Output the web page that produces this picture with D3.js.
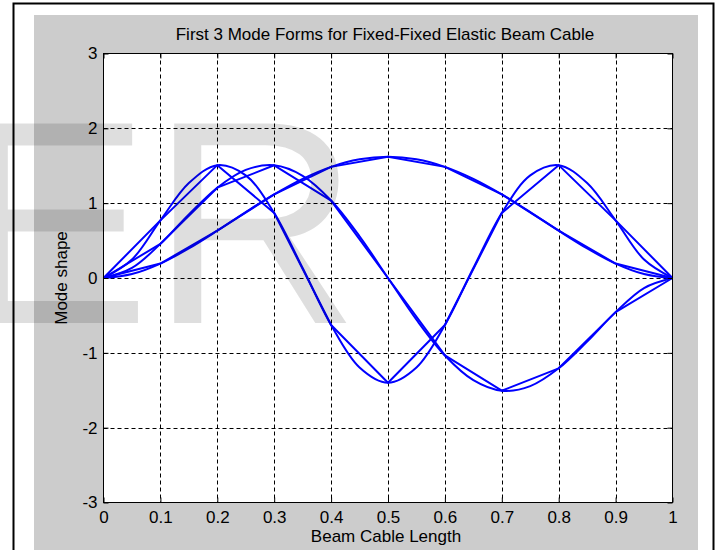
<!DOCTYPE html>
<html>
<head>
<meta charset="utf-8">
<script src="https://cdn.jsdelivr.net/npm/d3@7"></script>
<style>
  html, body { margin: 0; padding: 0; background: #fff; }
  svg { display: block; font-family: "Liberation Sans", Arial, sans-serif; }
</style>
</head>
<body>
<div id="chart"></div>
<script>
// ---- data ----
const xTicks = [0, 0.1, 0.2, 0.3, 0.4, 0.5, 0.6, 0.7, 0.8, 0.9, 1];
const yTicks = [-3, -2, -1, 0, 1, 2, 3];

// coarse solution: nodes every 0.1
const xCoarse = [0, 0.1, 0.2, 0.3, 0.4, 0.5, 0.6, 0.7, 0.8, 0.9, 1];
const mode1Coarse = [0, 0.193, 0.632, 1.118, 1.485, 1.62, 1.485, 1.118, 0.632, 0.193, 0];
const mode2Coarse = [0, 0.456, 1.207, 1.506, 1.035, 0, -1.035, -1.506, -1.207, -0.456, 0];
const mode3Coarse = [0, 0.770, 1.508, 0.869, -0.628, -1.40, -0.628, 0.869, 1.508, 0.770, 0];

// fine solution: nodes every 0.05
const xFine = [0, 0.05, 0.1, 0.15, 0.2, 0.25, 0.3, 0.35, 0.4, 0.45, 0.5,
               0.55, 0.6, 0.65, 0.7, 0.75, 0.8, 0.85, 0.9, 0.95, 1];
const mode1Fine = [0, 0.053, 0.193, 0.395, 0.632, 0.881, 1.118, 1.325, 1.485, 1.586, 1.62,
                   1.586, 1.485, 1.325, 1.118, 0.881, 0.632, 0.395, 0.193, 0.053, 0];
const mode2Fine = [0, 0.134, 0.456, 0.849, 1.207, 1.445, 1.506, 1.365, 1.035, 0.557, 0,
                   -0.557, -1.035, -1.365, -1.506, -1.445, -1.207, -0.849, -0.456, -0.134, 0];
const mode3Fine = [0, 0.247, 0.770, 1.268, 1.508, 1.371, 0.869, 0.133, -0.628, -1.196, -1.40,
                   -1.196, -0.628, 0.133, 0.869, 1.371, 1.508, 1.268, 0.770, 0.247, 0];

const width = 719, height = 550;
const plot = { left: 103.5, right: 672.5, top: 53.5, bottom: 502.5 };
const fontSize = "17px";

const svg = d3.select("#chart").append("svg")
    .attr("width", width)
    .attr("height", height);

// page frame + grey figure background
svg.append("rect")
    .attr("x", 13.5).attr("y", 3.5)
    .attr("width", 700).attr("height", 560)
    .attr("fill", "#fff").attr("stroke", "#000").attr("stroke-width", 2);

svg.append("rect")
    .attr("x", 34).attr("y", 15)
    .attr("width", 664).attr("height", 540)
    .attr("fill", "#cccccc");

// scales
const x = d3.scaleLinear().domain([0, 1]).range([plot.left, plot.right]);
const y = d3.scaleLinear().domain([-3, 3]).range([plot.bottom, plot.top]);

// plot area
svg.append("rect")
    .attr("x", plot.left).attr("y", plot.top)
    .attr("width", plot.right - plot.left).attr("height", plot.bottom - plot.top)
    .attr("fill", "#fff");

// grid
const grid = svg.append("g")
    .attr("stroke", "#000")
    .attr("stroke-width", 1)
    .attr("stroke-dasharray", "4,3");

grid.selectAll(".vgrid")
    .data(xTicks.slice(1, -1))
    .join("line")
    .attr("x1", d => Math.round(x(d)) + 0.5).attr("x2", d => Math.round(x(d)) + 0.5)
    .attr("y1", plot.top).attr("y2", plot.bottom);

grid.selectAll(".hgrid")
    .data(yTicks.slice(1, -1))
    .join("line")
    .attr("y1", d => Math.round(y(d)) + 0.5).attr("y2", d => Math.round(y(d)) + 0.5)
    .attr("x1", plot.left).attr("x2", plot.right);

// curves
const line = d3.line()
    .x(d => x(d[0]))
    .y(d => y(d[1]));

const smooth = d3.line()
    .x(d => x(d[0]))
    .y(d => y(d[1]))
    .curve(d3.curveCatmullRom.alpha(0.5));

const coarse = [mode1Coarse, mode2Coarse, mode3Coarse].map(m => xCoarse.map((v, i) => [v, m[i]]));
const fine = [mode1Fine, mode2Fine, mode3Fine].map(m => xFine.map((v, i) => [v, m[i]]));

const curves = svg.append("g")
    .attr("fill", "none")
    .attr("stroke", "#0000ff")
    .attr("stroke-width", 2)
    .attr("stroke-linejoin", "round");

curves.selectAll(".coarse")
    .data(coarse)
    .join("path")
    .attr("d", line);

curves.selectAll(".fine")
    .data(fine)
    .join("path")
    .attr("d", smooth);

// axes (inward ticks on all four sides)
const fmt = d => String(d);
const tick = 5;

svg.append("g")
    .attr("transform", `translate(0, ${plot.bottom})`)
    .call(d3.axisBottom(x).tickValues(xTicks).tickFormat(fmt).tickSizeInner(-tick).tickSizeOuter(0).tickPadding(8.5));

svg.append("g")
    .attr("transform", `translate(0, ${plot.top})`)
    .call(d3.axisTop(x).tickValues(xTicks).tickFormat("").tickSizeInner(-tick).tickSizeOuter(0));

svg.append("g")
    .attr("transform", `translate(${plot.left}, 0)`)
    .call(d3.axisLeft(y).tickValues(yTicks).tickFormat(fmt).tickSizeInner(-tick).tickSizeOuter(0).tickPadding(6));

svg.append("g")
    .attr("transform", `translate(${plot.right}, 0)`)
    .call(d3.axisRight(y).tickValues(yTicks).tickFormat("").tickSizeInner(-tick).tickSizeOuter(0));

svg.selectAll(".domain").remove();
svg.selectAll(".tick line").attr("stroke", "#000");
svg.selectAll(".tick text")
    .attr("fill", "#000")
    .style("font-size", fontSize)
    .style("font-family", "'Liberation Sans', Arial, sans-serif");

// box
svg.append("rect")
    .attr("x", plot.left).attr("y", plot.top)
    .attr("width", plot.right - plot.left).attr("height", plot.bottom - plot.top)
    .attr("fill", "none").attr("stroke", "#000").attr("stroke-width", 1);

// labels
svg.append("text")
    .attr("x", (plot.left + plot.right) / 2 - 3)
    .attr("y", 40)
    .attr("text-anchor", "middle")
    .style("font-size", fontSize)
    .text("First 3 Mode Forms for Fixed-Fixed Elastic Beam Cable");

svg.append("text")
    .attr("x", (plot.left + plot.right) / 2 - 2)
    .attr("y", 542)
    .attr("text-anchor", "middle")
    .style("font-size", fontSize)
    .text("Beam Cable Length");

svg.append("text")
    .attr("transform", `translate(67, ${(plot.top + plot.bottom) / 2}) rotate(-90)`)
    .attr("text-anchor", "middle")
    .style("font-size", fontSize)
    .text("Mode shape");

// watermark letters
svg.append("text")
    .attr("x", -43)
    .attr("y", 323)
    .attr("fill", "#000")
    .attr("fill-opacity", 0.13)
    .style("font-size", "290px")
    .style("pointer-events", "none")
    .text("ER");
</script>
</body>
</html>
